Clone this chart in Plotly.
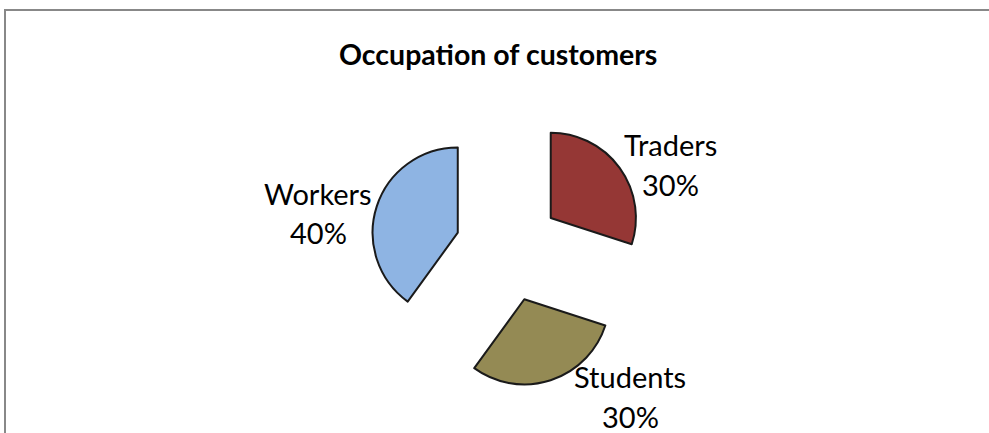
import plotly.graph_objects as go

# data
labels = ["Traders", "Students", "Workers"]
values = [30, 30, 40]
colors = ["#953735", "#948A54", "#8EB4E3"]

FONT = "Lato, 'Open Sans', sans-serif"
INK = "#000000"
BORDER = "#888888"
W, H = 989, 433

# label centres in pixels (Excel-style outside labels): x, name line y, percent line y
label_pos = [(670, 144, 184), (630, 376, 416), (318, 193, 233)]

fig = go.Figure()
fig.add_trace(go.Pie(
    labels=labels, values=values, sort=False,
    direction="clockwise", rotation=0,
    pull=[0.62, 0.62, 0.62],
    marker=dict(colors=colors, line=dict(color="#1a1a1a", width=2)),
    textinfo="none", hoverinfo="label+percent",
    showlegend=False,
    domain=dict(x=[370 / W, 646 / W], y=[1 - 387 / H, 1 - 111 / H]),
))


def px_annot(text, px, py, size, bold=False):
    fig.add_annotation(
        x=px / W, y=1 - py / H, xref="paper", yref="paper",
        xanchor="center", yanchor="middle",
        text=f"<b>{text}</b>" if bold else text, showarrow=False,
        font=dict(family=FONT, size=size, color=INK),
    )


total = sum(values)
for name, v, (px, py1, py2) in zip(labels, values, label_pos):
    px_annot(name, px, py1, 29)
    px_annot(f"{round(100 * v / total)}%", px, py2, 29)

px_annot("Occupation of customers", 498, 54, 28.5, bold=True)

# chart frame (bottom and right edges fall outside the picture)
fig.add_shape(type="rect", xref="paper", yref="paper",
              x0=5 / W, x1=1.02, y0=-0.1, y1=1 - 10 / H,
              line=dict(color=BORDER, width=2))

fig.update_layout(
    width=W, height=H,
    margin=dict(l=0, r=0, t=0, b=0),
    paper_bgcolor="white", plot_bgcolor="white",
    font=dict(family=FONT, color=INK),
)
fig.write_html("out.html", config={"displayModeBar": False},
               post_script="document.body.style.margin='0';")
